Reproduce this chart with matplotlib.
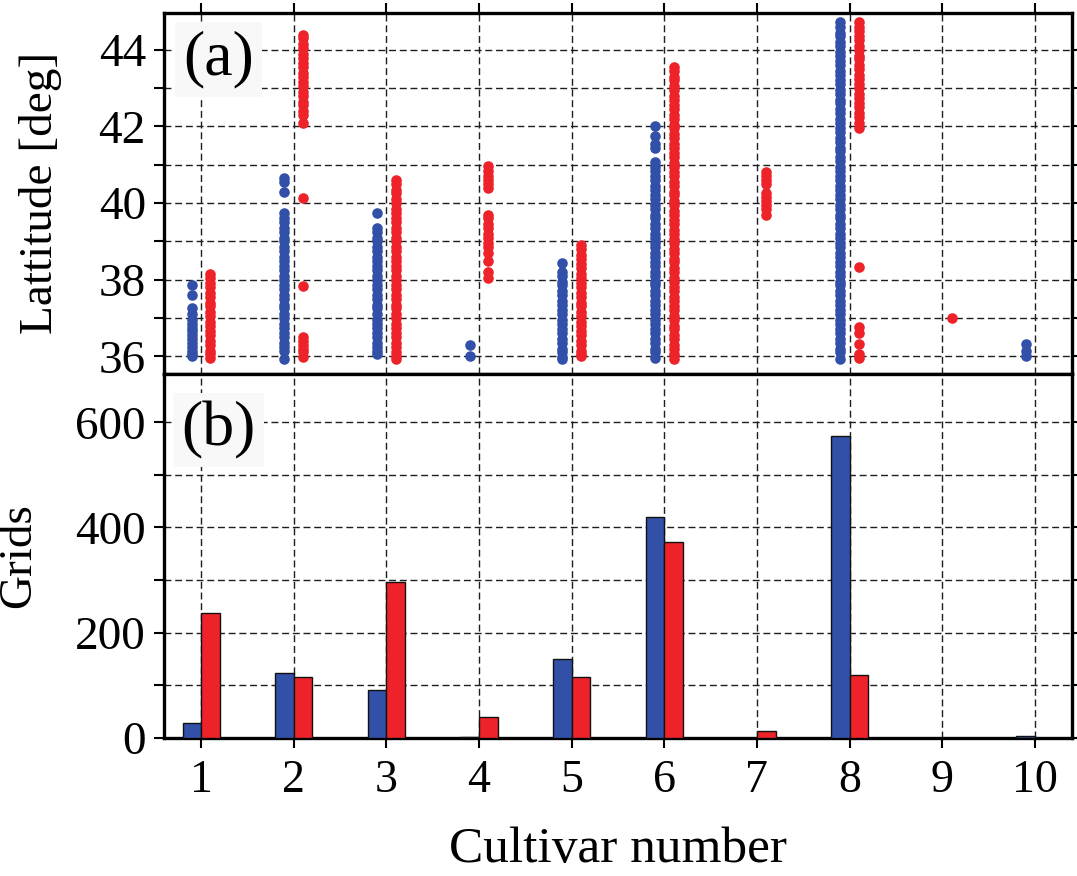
import matplotlib
matplotlib.use("Agg")
import matplotlib.pyplot as plt
import numpy as np

plt.rcParams['font.family'] = ['Liberation Serif', 'DejaVu Serif']

cultivars = [1, 2, 3, 4, 5, 6, 7, 8, 9, 10]
tick_labels = ['1', '2', '3', '4', '5', '6', '7', '8', '9', '10']

# Latitudes of grids per cultivar (blue = first series, red = second series)
lat_blue = {
    1: [37.85, 37.6, 37.25, 37.1, 36.95, 36.85, 36.75, 36.65, 36.55, 36.45, 36.35,
        36.25, 36.15, 36.05, 36.0],
    2: [40.65, 40.55, 40.3, 39.75, 39.6, 39.5, 39.35, 39.25, 39.1, 39.0, 38.85, 38.75,
        38.6, 38.5, 38.35, 38.25, 38.1, 38.0, 37.85, 37.75, 37.6, 37.5, 37.35, 37.25,
        37.1, 37.0, 36.85, 36.75, 36.6, 36.5, 36.35, 36.25, 36.15, 35.92],
    3: [39.75, 39.35, 39.25, 39.1, 39.0, 38.85, 38.75, 38.6, 38.5, 38.35, 38.25, 38.1,
        38.0, 37.85, 37.75, 37.6, 37.5, 37.35, 37.25, 37.1, 36.95, 36.85, 36.75, 36.6,
        36.5, 36.35, 36.25, 36.15, 36.05],
    4: [36.29, 36.0],
    5: [38.44, 38.2, 38.1, 37.95, 37.85, 37.7, 37.6, 37.45, 37.35, 37.2, 37.1, 36.95,
        36.85, 36.7, 36.6, 36.45, 36.35, 36.2, 36.1, 35.98, 35.92],
    6: [42.0, 41.75, 41.55, 41.43, 41.08, 40.95, 40.85, 40.7, 40.6, 40.45, 40.35, 40.2,
        40.1, 39.95, 39.85, 39.7, 39.6, 39.45, 39.35, 39.2, 39.1, 38.95, 38.85, 38.7,
        38.6, 38.45, 38.35, 38.2, 38.1, 37.95, 37.85, 37.7, 37.6, 37.45, 37.35, 37.2,
        37.1, 36.95, 36.85, 36.7, 36.6, 36.45, 36.35, 36.2, 36.1, 35.95],
    7: [],
    8: [44.72, 44.6, 44.45, 44.35, 44.2, 44.1, 43.95, 43.85, 43.7, 43.6, 43.45, 43.35,
        43.2, 43.1, 42.95, 42.85, 42.7, 42.6, 42.45, 42.35, 42.2, 42.1, 41.95, 41.85,
        41.7, 41.6, 41.45, 41.35, 41.2, 41.1, 40.95, 40.85, 40.7, 40.6, 40.45, 40.35,
        40.2, 40.1, 39.95, 39.85, 39.7, 39.6, 39.45, 39.35, 39.2, 39.1, 38.95, 38.85,
        38.7, 38.6, 38.45, 38.35, 38.2, 38.1, 37.95, 37.85, 37.7, 37.6, 37.45, 37.35,
        37.2, 37.1, 36.95, 36.85, 36.7, 36.6, 36.45, 36.35, 36.2, 36.1, 35.94],
    9: [],
    10: [36.33, 36.15, 36.0],
}
lat_red = {
    1: [38.15, 38.05, 37.9, 37.8, 37.65, 37.55, 37.4, 37.3, 37.15, 37.05, 36.9, 36.8,
        36.65, 36.55, 36.4, 36.3, 36.15, 36.05, 35.95],
    2: [44.4, 44.3, 44.15, 44.05, 43.9, 43.8, 43.65, 43.55, 43.4, 43.3, 43.15, 43.05,
        42.9, 42.8, 42.65, 42.55, 42.4, 42.3, 42.1, 40.13, 37.83, 36.5, 36.4, 36.3,
        36.2, 36.1, 35.98],
    3: [40.6, 40.5, 40.35, 40.25, 40.1, 40.0, 39.85, 39.75, 39.6, 39.5, 39.35, 39.25,
        39.1, 39.0, 38.85, 38.75, 38.6, 38.5, 38.35, 38.25, 38.1, 38.0, 37.85, 37.75,
        37.6, 37.5, 37.35, 37.25, 37.1, 37.0, 36.85, 36.75, 36.6, 36.5, 36.35, 36.25,
        36.1, 36.0, 35.92],
    4: [40.98, 40.85, 40.7, 40.6, 40.5, 40.4, 39.7, 39.6, 39.45, 39.35, 39.2, 39.1,
        38.95, 38.86, 38.7, 38.5, 38.2, 38.04],
    5: [38.9, 38.8, 38.65, 38.55, 38.4, 38.3, 38.15, 38.05, 37.9, 37.8, 37.65, 37.55,
        37.4, 37.3, 37.15, 37.05, 36.9, 36.8, 36.65, 36.55, 36.4, 36.3, 36.15, 36.05, 36.0],
    6: [43.56, 43.45, 43.3, 43.2, 43.05, 42.95, 42.8, 42.7, 42.55, 42.45, 42.3, 42.2,
        42.05, 41.95, 41.8, 41.7, 41.55, 41.45, 41.3, 41.2, 41.05, 40.95, 40.8, 40.7,
        40.55, 40.45, 40.3, 40.2, 40.05, 39.95, 39.8, 39.7, 39.55, 39.45, 39.3, 39.2,
        39.05, 38.95, 38.8, 38.7, 38.55, 38.45, 38.3, 38.2, 38.05, 37.95, 37.8, 37.7,
        37.55, 37.45, 37.3, 37.2, 37.05, 36.95, 36.8, 36.7, 36.55, 36.45, 36.3, 36.2,
        36.05, 35.94],
    7: [40.82, 40.7, 40.6, 40.5, 40.25, 40.15, 40.05, 39.95, 39.85, 39.7],
    8: [44.72, 44.6, 44.5, 44.35, 44.25, 44.1, 44.0, 43.85, 43.75, 43.6, 43.5, 43.35,
        43.25, 43.1, 43.0, 42.85, 42.75, 42.6, 42.5, 42.35, 42.25, 42.1, 41.96, 38.33,
        36.77, 36.62, 36.33, 36.05, 35.95],
    9: [37.0],
    10: [],
}

# Number of grids per cultivar
grids_blue = [28, 123, 91, 2, 150, 420, 0, 574, 0, 3]
grids_red = [237, 116, 296, 39, 116, 373, 13, 119, 0, 0]

BLUE = '#3350a8'
RED = '#ee2229'

W, H = 1077, 876
fig = plt.figure(figsize=(W / 100, H / 100), dpi=100)
left = 164 / W
width = (1072 - 164) / W
ax1 = fig.add_axes([left, 1 - 373.5 / H, width, (373.5 - 12.7) / H])
ax2 = fig.add_axes([left, 1 - 737.7 / H, width, (737.7 - 374) / H])

grid_kw = dict(color='#1e1e1e', linewidth=1.0, linestyle=(0, (5, 2.7)))

# ---- (a) scatter
for c in cultivars:
    yb = lat_blue[c]
    yr = lat_red[c]
    if yb:
        ax1.scatter(np.full(len(yb), c) - 0.1, yb, s=58, color=BLUE, linewidths=0, zorder=3)
    if yr:
        ax1.scatter(np.full(len(yr), c) + 0.1, yr, s=58, color=RED, linewidths=0, zorder=3)

ax1.set_xlim(0.6, 10.4)
ax1.set_ylim(35.55, 44.97)
ax1.set_yticks([36, 38, 40, 42, 44])
ax1.set_yticks([37, 39, 41, 43], minor=True)
ax1.set_xticks(cultivars)
ax1.tick_params(axis='x', which='both', bottom=False, top=True, labelbottom=False,
                direction='out', length=7, width=1.5)
ax1.set_ylabel('Lattitude [deg]', fontsize=34)
ax1.yaxis.set_label_coords(-0.112, 0.5)

# ---- (b) bars
x = np.array(cultivars)
ax2.bar(x, grids_blue, width=-0.2, align='edge', color=BLUE, edgecolor='#111111',
        linewidth=1.0, zorder=3)
ax2.bar(x, grids_red, width=0.2, align='edge', color=RED, edgecolor='#111111',
        linewidth=1.0, zorder=3)
ax2.set_xlim(0.6, 10.4)
ax2.set_ylim(0, 692)
ax2.set_yticks([0, 200, 400, 600])
ax2.set_yticks([100, 300, 500], minor=True)
ax2.set_xticks(cultivars)
ax2.set_xticklabels(tick_labels)
ax2.tick_params(axis='x', which='both', bottom=True, top=False, direction='out',
                length=7, width=1.5, labelsize=33, pad=9)
ax2.set_ylabel('Grids', fontsize=34)
ax2.yaxis.set_label_coords(-0.136, 0.5)
ax2.set_xlabel('Cultivar number', fontsize=37, labelpad=17)

for ax, lab, ly in ((ax1, '(a)', 0.87), (ax2, '(b)', 0.846)):
    ax.set_axisbelow(True)
    ax.grid(True, which='major', axis='both', **grid_kw)
    ax.grid(True, which='minor', axis='y', **grid_kw)
    ax.tick_params(axis='y', which='both', left=True, right=True, direction='out',
                   length=7, width=1.5, labelsize=34, pad=6)
    for s in ax.spines.values():
        s.set_linewidth(2.4)
    ax.text(0.06, ly, lab, transform=ax.transAxes, fontsize=46, ha='center', va='center',
            zorder=5, bbox=dict(facecolor='#f8f8f8', edgecolor='none', pad=6))

fig.savefig('out.png', dpi=100)
